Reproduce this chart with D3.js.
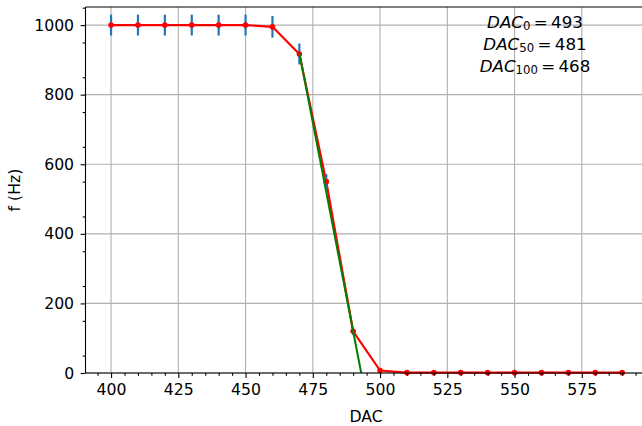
<!DOCTYPE html>
<html>
<head>
<meta charset="utf-8">
<script src="https://cdn.jsdelivr.net/npm/d3@7"></script>
<style>
  body { margin: 0; background: #fff; }
  svg { display: block; font-family: "DejaVu Sans", sans-serif; }
</style>
</head>
<body>
<div id="chart"></div>
<script>
// measured red line (f vs DAC)
var dac = [400, 410, 420, 430, 440, 450, 460, 470, 480, 490, 500, 510, 520, 530, 540, 550, 560, 570, 580, 590];
var freq = [1000, 1000, 1000, 1000, 1000, 1000, 995, 917, 550, 120, 7, 1, 1, 1, 1, 1, 1, 1, 1, 1];

// blue error bars
var errDac = [400, 410, 420, 430, 440, 450, 460, 470, 480, 490];
var errMean = [1000, 1000, 1000, 1000, 1000, 1000, 995, 917, 550, 118];
var errSd = [30, 30, 30, 30, 30, 30, 31, 30, 22, 9];

// green linear fit
var fitDac = [470, 493];
var fitFreq = [920, 0];

var xTicks = [400, 425, 450, 475, 500, 525, 550, 575];
var yTicks = [0, 200, 400, 600, 800, 1000];
var notes = [["0", "493"], ["50", "481"], ["100", "468"]];

var W = 642, H = 426,
    mLeft = 85.5, mTop = 7, mBottom = 373,
    pxPerUnit = 2.69,
    fs = "15.7px";

var x = d3.scaleLinear().domain([390.5, 599.5])
    .range([mLeft, mLeft + 209 * pxPerUnit]);
var y = d3.scaleLinear().domain([0, 1052]).range([mBottom, mTop]);

var svg = d3.select("#chart").append("svg")
    .attr("width", W).attr("height", H);

var plot = svg.append("g");

// grid
plot.selectAll("line.gx").data(xTicks).enter().append("line")
    .attr("x1", d => x(d)).attr("x2", d => x(d))
    .attr("y1", mTop).attr("y2", mBottom)
    .attr("stroke", "#b0b0b0").attr("stroke-width", 1.1);
plot.selectAll("line.gy").data(yTicks).enter().append("line")
    .attr("y1", d => y(d)).attr("y2", d => y(d))
    .attr("x1", mLeft).attr("x2", W)
    .attr("stroke", "#b0b0b0").attr("stroke-width", 1.1);

// red line
var line = d3.line().x(d => x(d[0])).y(d => y(d[1]));
plot.append("path")
    .datum(d3.zip(dac, freq))
    .attr("d", line)
    .attr("fill", "none").attr("stroke", "#ff0000").attr("stroke-width", 2.2);

// blue error bars
plot.selectAll("line.err").data(d3.range(errDac.length)).enter().append("line")
    .attr("x1", i => x(errDac[i])).attr("x2", i => x(errDac[i]))
    .attr("y1", i => y(errMean[i] - errSd[i]))
    .attr("y2", i => y(errMean[i] + errSd[i]))
    .attr("stroke", "#1f77b4").attr("stroke-width", 2.2);

// red markers
plot.selectAll("circle.pt").data(d3.zip(dac, freq)).enter().append("circle")
    .attr("cx", d => x(d[0])).attr("cy", d => y(d[1]))
    .attr("r", 2.8).attr("fill", "#ff0000");

// green fit
plot.append("path")
    .datum(d3.zip(fitDac, fitFreq))
    .attr("d", line)
    .attr("fill", "none").attr("stroke", "#008000").attr("stroke-width", 2);

// axes
var xAxis = svg.append("g").attr("transform", "translate(0," + mBottom + ")")
    .call(d3.axisBottom(x).tickValues(xTicks).tickSize(4.9).tickPadding(6));
var xMinor = svg.append("g").attr("transform", "translate(0," + mBottom + ")")
    .call(d3.axisBottom(x).tickValues(d3.range(395, 600, 5).filter(v => v % 25 !== 0))
      .tickSize(2.8).tickFormat(""));
var yAxis = svg.append("g").attr("transform", "translate(" + mLeft + ",0)")
    .call(d3.axisLeft(y).tickValues(yTicks).tickSize(4.9).tickPadding(6.5).tickFormat(d3.format("d")));
var yMinor = svg.append("g").attr("transform", "translate(" + mLeft + ",0)")
    .call(d3.axisLeft(y).tickValues(d3.range(50, 1051, 100)).tickSize(2.8).tickFormat(""));

[xAxis, xMinor, yAxis, yMinor].forEach(function (g) {
  g.select(".domain").remove();
  g.selectAll("line").attr("stroke", "#000").attr("stroke-width", 1.1);
  g.selectAll("text").attr("fill", "#000")
    .style("font-family", "DejaVu Sans").style("font-size", fs);
});

// spines
svg.append("line").attr("x1", mLeft).attr("x2", mLeft).attr("y1", mTop).attr("y2", mBottom)
    .attr("stroke", "#000").attr("stroke-width", 1.1);
svg.append("line").attr("x1", mLeft).attr("x2", W).attr("y1", mBottom).attr("y2", mBottom)
    .attr("stroke", "#000").attr("stroke-width", 1.1);
svg.append("line").attr("x1", mLeft).attr("x2", W).attr("y1", mTop).attr("y2", mTop)
    .attr("stroke", "#000").attr("stroke-width", 1.1);

// axis labels
svg.append("text").attr("x", 366).attr("y", 422)
    .attr("text-anchor", "middle").style("font-size", fs).text("DAC");
svg.append("text")
    .attr("transform", "translate(20," + ((mTop + mBottom) / 2) + ") rotate(-90)")
    .attr("text-anchor", "middle").style("font-size", fs).text("f (Hz)");

// annotation
var ann = svg.append("g");
notes.forEach(function (n, i) {
  var t = ann.append("text")
      .attr("x", 535).attr("y", 27.5 + i * 22.2)
      .attr("text-anchor", "middle")
      .style("font-size", "16.7px");
  t.append("tspan").style("font-style", "italic").text("DAC");
  t.append("tspan").attr("dy", 2.5).style("font-size", "11.7px").text(n[0]);
  t.append("tspan").attr("dy", -2.5).text("\u2009=\u2009" + n[1]);
});
</script>
</body>
</html>
